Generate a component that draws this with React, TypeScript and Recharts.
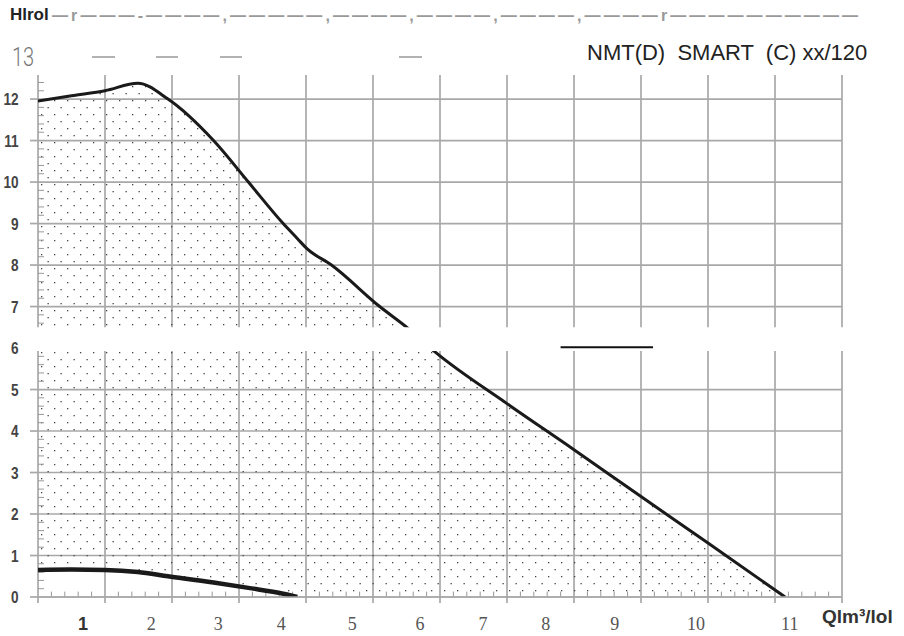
import React from "react";
import {
  ComposedChart,
  Area,
  Line,
  XAxis,
  YAxis,
  CartesianGrid,
  ReferenceArea,
  ReferenceLine,
} from "recharts";

// flow Q [m3/h] and head H [m]
const flow = [0, 0.5, 1, 1.49, 1.94, 2.62, 3.14, 3.66, 3.87, 4.01, 4.38, 5.1, 5.52, 5.93, 7, 8, 9, 10, 11.15];
const headMax = [11.95, 12.08, 12.2, 12.38, 12.0, 11.0, 10.0, 9.0, 8.64, 8.4, 8.0, 7.0, 6.48, 5.9, 4.66, 3.55, 2.42, 1.3, 0];
const headMin = [0.65, 0.66, 0.65, 0.6, 0.5, 0.35, 0.22, 0.08, 0, null, null, null, null, null, null, null, null, null, null];

const gridQ = [0, 1, 2, 3, 4, 5, 6, 7, 8, 9, 10, 11, 12];
const hTicks = [0, 1, 2, 3, 4, 5, 6, 7, 8, 9, 10, 11, 12];
const qLabels = ["1", "2", "3", "4", "5", "6", "7", "8", "9", "10", "11"];
const qLabelPos = [0.67, 1.69, 2.69, 3.63, 4.69, 5.7, 6.64, 7.58, 8.61, 9.82, 11.22];

const gapBand = [5.93, 6.5];

const data = flow.map((q, i) => ({
  q,
  up: headMax[i],
  low: headMin[i],
  base: headMin[i] ?? 0,
}));

const minorH = Array.from({ length: 63 }, (_, i) => (i + 1) / 5).filter((v) => v % 1 !== 0 && v < 12.55);
const minorQ = Array.from({ length: 60 }, (_, i) => (i + 1) / 5).filter((v) => v % 1 !== 0 && v < 12);

const GRID = "#a8a8a8";

const NoTick = () => <g />;

const QTick = (props: any) => {
  const { x, y, index } = props;
  const label = qLabels[index];
  const bold = label === "1";
  return (
    <text
      x={x}
      y={y + 32}
      textAnchor="middle"
      fill={bold ? "#333" : "#555"}
      fontFamily={bold ? "'Liberation Sans', Arial, sans-serif" : "'Liberation Serif', 'Times New Roman', serif"}
      fontWeight={bold ? 700 : 400}
      fontSize={18}
    >
      {label}
    </text>
  );
};

const HTick = (props: any) => {
  const { x, y, payload } = props;
  return (
    <text
      transform={`translate(${x},${y}) scale(0.8,1)`}
      textAnchor="end"
      dy="0.36em"
      fill="#444"
      fontFamily="'Liberation Sans', Arial, sans-serif"
      fontWeight={700}
      fontSize={17}
    >
      {payload.value}
    </text>
  );
};

export default function App() {
  return (
    <div style={{ position: "absolute", left: 0, top: 0, width: 904, height: 636, background: "#fff" }}>
      <ComposedChart
        width={904}
        height={636}
        data={data}
        margin={{ top: 75, right: 62, left: 0, bottom: 0 }}
      >
        <defs>
          <pattern id="dots" width="13" height="14" patternUnits="userSpaceOnUse">
            <rect x="2" y="2" width="1.3" height="1.3" fill="#444" />
            <rect x="8.5" y="9" width="1.3" height="1.3" fill="#444" />
          </pattern>
        </defs>
        <CartesianGrid
          xAxisId="grid"
          stroke={GRID}
          strokeWidth={1.7}
          verticalValues={gridQ}
          horizontalValues={hTicks}
        />
        <XAxis
          xAxisId="grid"
          dataKey="q"
          type="number"
          domain={[0, 12]}
          ticks={gridQ}
          interval={0}
          tick={<NoTick />}
          tickSize={6}
          tickLine={{ stroke: GRID, strokeWidth: 1.7 }}
          axisLine={{ stroke: GRID, strokeWidth: 1.7 }}
          height={1}
          allowDataOverflow
        />
        <XAxis
          xAxisId="lab"
          dataKey="q"
          type="number"
          domain={[0, 12]}
          ticks={qLabelPos}
          interval={0}
          tick={<QTick />}
          tickLine={false}
          axisLine={false}
          tickSize={0}
          tickMargin={0}
          height={38}
          allowDataOverflow
        />
        <YAxis
          type="number"
          domain={[0, 12.58]}
          ticks={hTicks}
          interval={0}
          tick={<HTick />}
          tickSize={8}
          tickMargin={11.5}
          tickLine={{ stroke: GRID, strokeWidth: 1.7 }}
          axisLine={false}
          width={38}
          allowDataOverflow
        />
        <Area
          xAxisId="grid"
          type="monotone"
          dataKey={(d: any) => [d.base, d.up]}
          stroke="none"
          fill="url(#dots)"
          fillOpacity={1}
          isAnimationActive={false}
        />
        {minorH.map((v) => (
          <ReferenceLine
            key={"h" + v}
            xAxisId="grid"
            segment={[{ x: 0, y: v }, { x: 0.09, y: v }]}
            stroke="#999"
            strokeWidth={1}
          />
        ))}
        {minorQ.map((v) => (
          <ReferenceLine
            key={"q" + v}
            xAxisId="grid"
            segment={[{ x: v, y: 0 }, { x: v, y: 0.13 }]}
            stroke="#999"
            strokeWidth={1}
          />
        ))}
        <Line
          xAxisId="grid"
          type="monotone"
          dataKey="up"
          stroke="#1a1a1a"
          strokeWidth={3}
          dot={false}
          isAnimationActive={false}
        />
        <Line
          xAxisId="grid"
          type="monotone"
          dataKey="low"
          stroke="#1a1a1a"
          strokeWidth={4.5}
          dot={false}
          connectNulls={false}
          isAnimationActive={false}
        />
        <ReferenceArea
          xAxisId="grid"
          x1={-0.16}
          x2={12.1}
          y1={gapBand[0]}
          y2={gapBand[1]}
          fill="#fff"
          fillOpacity={1}
          stroke="none"
          ifOverflow="visible"
          zIndex={1500}
        />
        <ReferenceLine
          xAxisId="grid"
          segment={[{ x: 7.8, y: 6.02 }, { x: 9.18, y: 6.02 }]}
          stroke="#111"
          strokeWidth={2}
          ifOverflow="visible"
          zIndex={1600}
        />
      </ComposedChart>
      <svg
        width={904}
        height={636}
        style={{ position: "absolute", left: 0, top: 0, pointerEvents: "none" }}
      >
        <text x={10} y={20} fontFamily="'Liberation Sans', Arial, sans-serif" fontWeight={700} fontSize={17} fill="#222">
          Hlrol
        </text>
        <text
          x={52}
          y={21}
          fontFamily="'Liberation Sans', Arial, sans-serif"
          fontWeight={700}
          fontSize={16}
          fill="#999"
          textLength={806}
          lengthAdjust="spacing"
        >
          —r———-————,—————,————,————,————,————r——————————
        </text>
        <text
          transform="translate(12,66) scale(0.8,1)"
          fontFamily="Roboto, 'DejaVu Sans', sans-serif"
          fontWeight={300}
          fontSize={25}
          fill="#777"
        >
          13
        </text>
        <line x1={92} y1={57} x2={115} y2={57} stroke="#999" strokeWidth={1.5} />
        <line x1={156} y1={57} x2={178} y2={57} stroke="#999" strokeWidth={1.5} />
        <line x1={220} y1={57} x2={242} y2={57} stroke="#999" strokeWidth={1.5} />
        <line x1={399} y1={57} x2={422} y2={57} stroke="#999" strokeWidth={1.5} />
        <text
          x={587}
          y={60}
          fontFamily="'Liberation Sans', Arial, sans-serif"
          fontSize={22}
          fill="#222"
          style={{ whiteSpace: "pre" }}
        >
          NMT(D)  SMART  (C) xx/120
        </text>
        <text x={822} y={623} fontFamily="'Liberation Sans', Arial, sans-serif" fontWeight={700} fontSize={19} fill="#333">
          Qlm³/lol
        </text>
      </svg>
    </div>
  );
}
